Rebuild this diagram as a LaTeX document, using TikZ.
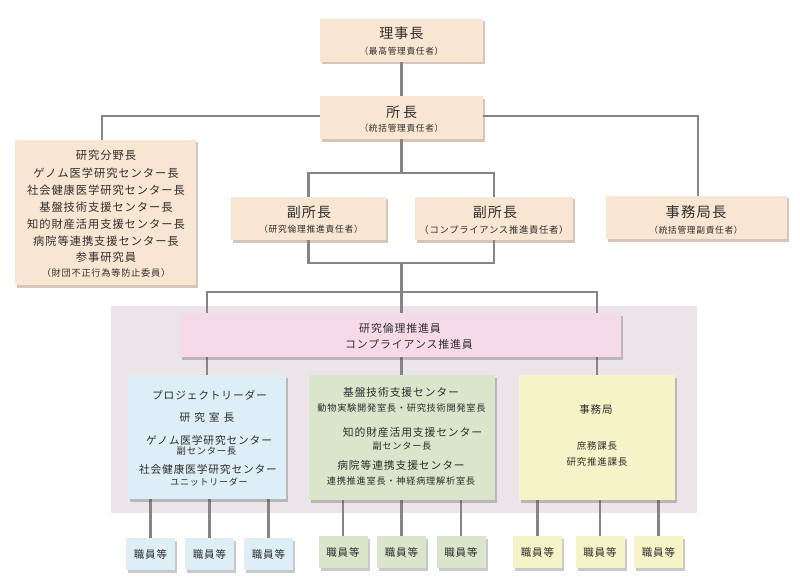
\documentclass[tikz,border=0pt]{standalone}
\usepackage{fontspec}
\setmainfont{Noto Sans CJK JP}[LetterSpace=8]
\usetikzlibrary{shadows}
\definecolor{peach}{HTML}{F9E6D2}
\definecolor{peachsh}{HTML}{A07E6C}
\definecolor{bggray}{HTML}{EBE5EA}
\definecolor{pinkc}{HTML}{F6DAE7}
\definecolor{bluec}{HTML}{DEEEF6}
\definecolor{greenc}{HTML}{DAE6CB}
\definecolor{yellowc}{HTML}{F6F3C8}
\definecolor{linec}{HTML}{858585}
\definecolor{txt}{HTML}{2E2E2E}
\newcommand{\fsz}[1]{\fontsize{#1pt}{#1pt}\selectfont}
\pgfdeclarelayer{bgzero}
\pgfdeclarelayer{bgone}
\pgfsetlayers{bgzero,bgone,main}
\tikzset{
  box/.style={draw=none, inner sep=0pt, outer sep=0pt},
  peachbox/.style={box, fill=peach, drop shadow={shadow xshift=2pt, shadow yshift=-2.5pt, fill=peachsh, opacity=0.45}},
  colbox/.style={box, fill=#1, drop shadow={shadow xshift=2pt, shadow yshift=-2.5pt, fill=black!70, opacity=0.3}},
  smallbox/.style={colbox=#1, minimum width=49pt, minimum height=32pt},
  conn/.style={draw=linec, line width=2.4pt},
  t/.style={text=txt, inner sep=0pt, outer sep=0pt},
}
\begin{document}
\begin{tikzpicture}[x=1pt,y=-1pt]
\useasboundingbox (0,0) rectangle (800,588);
% panel
\begin{pgfonlayer}{bgzero}
\node[box, fill=bggray, minimum width=586pt, minimum height=207pt] (panel) at (404,409.5) {};
\end{pgfonlayer}
% boxes
\node[peachbox, minimum width=163pt, minimum height=43pt] (rijicho) at (401.5,40.5) {};
\node[peachbox, minimum width=163pt, minimum height=43pt] (shocho) at (401.5,118) {};
\node[peachbox, minimum width=181pt, minimum height=145pt] (bucho) at (105.5,212.5) {};
\node[peachbox, minimum width=155pt, minimum height=43pt] (fukuA) at (308.5,218.5) {};
\node[peachbox, minimum width=158pt, minimum height=43pt] (fukuB) at (494,218.5) {};
\node[peachbox, minimum width=181pt, minimum height=43pt] (jimucho) at (696.5,217.5) {};
\node[colbox=pinkc, minimum width=441pt, minimum height=44pt] (pink) at (400.5,335) {};
\node[colbox=bluec, minimum width=158pt, minimum height=124pt] (blue) at (207,437) {};
\node[colbox=greenc, minimum width=186pt, minimum height=125pt] (green) at (402,437.5) {};
\node[colbox=yellowc, minimum width=156pt, minimum height=125pt] (yellow) at (597,437.5) {};
% staff boxes
\node[smallbox=bluec] (s1) at (150.5,554) {};
\node[smallbox=bluec] (s2) at (209.5,554) {};
\node[smallbox=bluec] (s3) at (268.5,554) {};
\node[smallbox=greenc] (s4) at (343,552) {};
\node[smallbox=greenc] (s5) at (401.5,552) {};
\node[smallbox=greenc] (s6) at (461,552) {};
\node[smallbox=yellowc] (s7) at (537.5,552) {};
\node[smallbox=yellowc] (s8) at (600,552) {};
\node[smallbox=yellowc] (s9) at (658.5,552) {};
% connectors
\coordinate (j1) at (401.5,173);
\coordinate (j2) at (401.5,263);
\coordinate (j3) at (401.5,292);
\begin{pgfonlayer}{bgone}
\draw[conn] (rijicho.south) -- (shocho.north);
\draw[conn] ([yshift=2pt]shocho.west) -| ([xshift=-3.5pt]bucho.north);
\draw[conn] ([yshift=2pt]shocho.east) -| ([xshift=1.5pt]jimucho.north);
\draw[conn] (shocho.south) -- (j1);
\draw[conn] (fukuA.north) |- (j1) -| (fukuB.north);
\draw[conn] (fukuA.south) |- (j2) -| (fukuB.south);
\draw[conn] (j2) -- (j3);
\draw[conn] (blue.north) |- (j3) -| (yellow.north);
\draw[conn] (j3) -- (j3 |- green.north);
\foreach \s/\b in {s1/blue,s2/blue,s3/blue,s4/green,s5/green,s6/green,s7/yellow,s8/yellow,s9/yellow}
  \draw[conn] (\s.north |- \b.south) -- (\s.north);
\end{pgfonlayer}
% texts: top
\node[t] (tr1) at (401.5,33) {\fsz{14}理事長};
\node[t] (tr2) at (401.5,51) {\fsz{8.7}（最高管理責任者）};
\node[t] (ts1) at (401.5,112) {\fsz{14}所\kern3pt 長};
\node[t] (ts2) at (401.5,128) {\fsz{8.7}（統括管理責任者）};
\node[t] (tfa1) at (309,212) {\fsz{14}副所長};
\node[t] (tfa2) at (311,229) {\fsz{8.8}（研究倫理推進責任者）};
\node[t] (tfb1) at (495,212) {\fsz{14}副所長};
\node[t] (tfb2) at (494,230) {\fsz{9.3}（コンプライアンス推進責任者）};
\node[t] (tj1) at (696,212) {\fsz{14.3}事務局長};
\node[t] (tj2) at (696,230) {\fsz{8.7}（統括管理副責任者）};
% left box
\node[t] (tb1) at (106,155) {\fsz{11.3}研\kern1pt 究\kern1pt 分\kern1pt 野\kern1pt 長};
\node[t] (tb2) at (106,173) {\fsz{11.3}ゲノム医学研究センター長};
\node[t] (tb3) at (106,190) {\fsz{11.3}社会健康医学研究センター長};
\node[t] (tb4) at (106,207) {\fsz{11.3}基盤技術支援センター長};
\node[t] (tb5) at (106,224) {\fsz{11.3}知的財産活用支援センター長};
\node[t] (tb6) at (106,241) {\fsz{11.3}病院等連携支援センター長};
\node[t] (tb7) at (106,257) {\fsz{11.3}参\kern1pt 事\kern1pt 研\kern1pt 究\kern1pt 員};
\node[t] (tb8) at (106,273) {\fsz{9.2}（財団不正行為等防止委員）};
% pink
\node[t] (tp1) at (400,328) {\fsz{10.9}研究倫理推進員};
\node[t] (tp2) at (409,344) {\fsz{10.9}コンプライアンス推進員};
% blue
\node[t] (tl1) at (209.5,395) {\fsz{10.7}プロジェクトリーダー};
\node[t] (tl2) at (207,417) {\fsz{10.7}研\kern4pt 究\kern4pt 室\kern4pt 長};
\node[t] (tl3) at (209,440) {\fsz{10.7}ゲノム医学研究センター};
\node[t] (tl4) at (206.5,451.5) {\fsz{9.3}副センター長};
\node[t] (tl5) at (208,469) {\fsz{10.7}社会健康医学研究センター};
\node[t] (tl6) at (209,482) {\fsz{9}ユニットリーダー};
% green
\node[t] (tg1) at (401,392) {\fsz{10.8}基盤技術支援センター};
\node[t] (tg2) at (401.5,408) {\fsz{9.2}動物実験開発室長・研究技術開発室長};
\node[t] (tg3) at (412.5,432) {\fsz{10.8}知的財産活用支援センター};
\node[t] (tg4) at (402,446) {\fsz{9.2}副センター長};
\node[t] (tg5) at (401,465) {\fsz{10.8}病院等連携支援センター};
\node[t] (tg6) at (401,481) {\fsz{9.2}連携推進室長・神経病理解析室長};
% yellow
\node[t] (ty1) at (596,410) {\fsz{10.5}事務局};
\node[t] (ty2) at (597,446) {\fsz{9.5}庶務課長};
\node[t] (ty3) at (597,462) {\fsz{9.5}研究推進課長};
% staff texts
\foreach \s in {s1,s2,s3,s4,s5,s6,s7,s8,s9}
  \node[t] (t\s) at (\s) {\fsz{10.5}職員等};
\end{tikzpicture}
\end{document}
